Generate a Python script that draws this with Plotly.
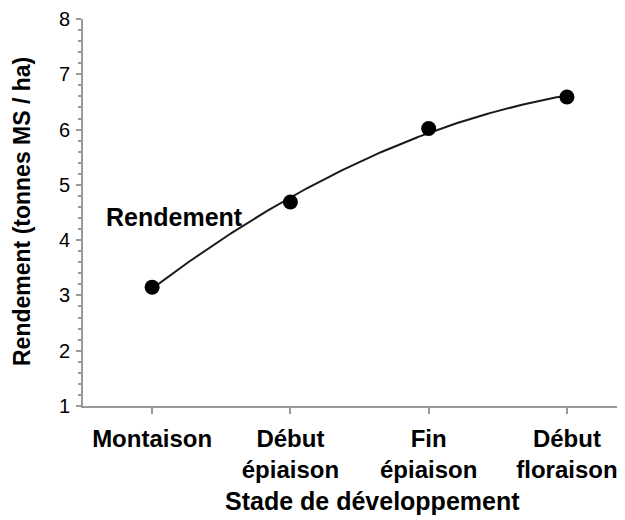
import numpy as np
import plotly.graph_objects as go

stages = ["Montaison", "Début<br>épiaison", "Fin<br>épiaison", "Début<br>floraison"]
rendement = [3.15, 4.69, 6.02, 6.59]
y_ticks = [1, 2, 3, 4, 5, 6, 7, 8]

x_idx = np.arange(len(stages))
coef = np.polyfit(x_idx, rendement, 2)
xs = np.linspace(x_idx[0], x_idx[-1], 200)
ys = np.polyval(coef, xs)

# page body has an 8px offset
OFF = 8
W, H = 625 - OFF, 520 - OFF
ml, mr, mt, mb = 83 - OFF, 0, 19 - OFF, 520 - 406
pw, ph = W - ml - mr, H - mt - mb


def px_x(sx):
    return (sx - OFF - ml) / pw


def px_y(sy):
    return ((H - mb) - (sy - OFF)) / ph


fig = go.Figure()
fig.add_trace(go.Scatter(x=xs, y=ys, mode="lines",
                         line=dict(color="#1a1a1a", width=2), hoverinfo="skip",
                         showlegend=False))
fig.add_trace(go.Scatter(x=x_idx, y=rendement, mode="markers",
                         marker=dict(color="black", size=15), showlegend=False))

fig.add_annotation(x=px_x(174), y=px_y(217), xref="paper", yref="paper",
                   text="<b>Rendement</b>", showarrow=False,
                   xanchor="center", yanchor="middle",
                   font=dict(size=25, color="black", family="Liberation Sans"))
fig.add_annotation(x=px_x(372), y=px_y(501), xref="paper", yref="paper",
                   text="<b>Stade de développement</b>", showarrow=False,
                   xanchor="center", yanchor="middle",
                   font=dict(size=25, color="black", family="Liberation Sans"))
fig.add_annotation(x=px_x(22), y=px_y(212), xref="paper", yref="paper",
                   textangle=-90, text="<b>Rendement (tonnes MS / ha)</b>",
                   showarrow=False, xanchor="center", yanchor="middle",
                   font=dict(size=23, color="black", family="Liberation Sans"))

fig.update_layout(
    width=W, height=H,
    margin=dict(l=ml, r=mr, t=mt, b=mb),
    paper_bgcolor="white", plot_bgcolor="white",
    font=dict(family="Liberation Sans", color="black"),
    xaxis=dict(range=[-0.5, 3.42], tickmode="array", tickvals=list(x_idx),
               ticktext=["<b>%s</b>" % s for s in stages],
               tickfont=dict(size=24, color="black"),
               showgrid=False, zeroline=False, showline=True,
               linecolor="#9a9a9a", linewidth=2, ticks="outside",
               ticklen=6, tickcolor="#9a9a9a", tickwidth=2,
               ticklabelstandoff=4),
    yaxis=dict(range=[1, 8], tickmode="array", tickvals=y_ticks,
               tickfont=dict(size=20, color="black"),
               showgrid=False, zeroline=False, showline=True,
               linecolor="#9a9a9a", linewidth=2, ticks="outside",
               ticklen=5, tickcolor="#9a9a9a", tickwidth=1.5,
               ticklabelstandoff=2,
               minor=dict(dtick=0.2, ticks="outside", ticklen=3,
                          tickcolor="#9a9a9a", tickwidth=1.5, showgrid=False)),
)

fig.write_html("out.html")
